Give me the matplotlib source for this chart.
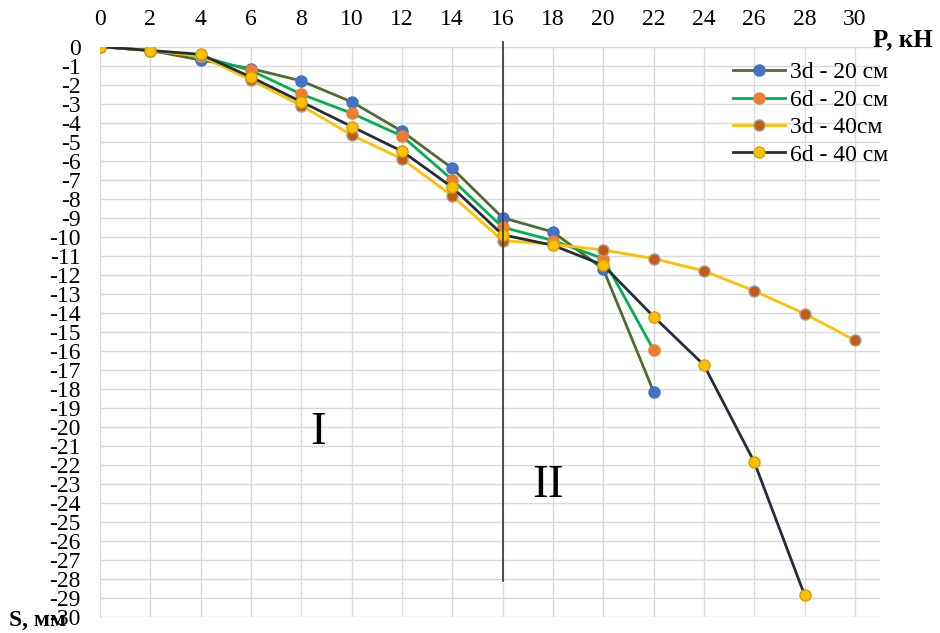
import matplotlib
matplotlib.use("Agg")
import matplotlib.pyplot as plt

P = [0, 2, 4, 6, 8, 10, 12, 14, 16, 18, 20, 22, 24, 26, 28, 30]

s_3d_20 = [0, -0.2, -0.7, -1.15, -1.8, -2.9, -4.45, -6.4, -9.0, -9.75, -11.7, -18.15]
s_6d_20 = [0, -0.2, -0.5, -1.25, -2.5, -3.5, -4.7, -7.0, -9.5, -10.2, -11.15, -15.95]
s_3d_40 = [0, -0.2, -0.5, -1.75, -3.1, -4.65, -5.9, -7.85, -10.2, -10.4, -10.7, -11.15, -11.8, -12.85, -14.05, -15.45]
s_6d_40 = [0, -0.2, -0.4, -1.6, -2.9, -4.2, -5.5, -7.4, -9.9, -10.45, -11.5, -14.2, -16.75, -21.85, -28.85]

labels = ["3d - 20 см", "6d - 20 см", "3d - 40см", "6d - 40 см"]
x_ticks = list(range(0, 31, 2))
y_ticks = list(range(0, -31, -1))

plt.rcParams['font.family'] = ['Liberation Serif', 'DejaVu Serif']

fig = plt.figure(figsize=(9.4, 6.33), dpi=100)
ax = fig.add_axes([100/940, 1-616.7/633, 780/940, 570/633])

series = [
    (s_3d_20, '#4F6B2F', '#4472C4', '#4472C4'),
    (s_6d_20, '#00B050', '#ED7D31', '#ED7D31'),
    (s_3d_40, '#FFC000', '#C55A11', '#A5A5A5'),
    (s_6d_40, '#262D3A', '#FFC000', '#D4A000'),
]
for (vals, lc, mc, mec), lab in zip(series, labels):
    ax.plot(P[:len(vals)], vals, color=lc, lw=2.0, marker='o', ms=8,
            mfc=mc, mec=mec, mew=1.0, label=lab, zorder=3)

ax.set_xlim(0, 31)
ax.set_ylim(-30, 0)
ax.set_xticks(x_ticks)
ax.set_yticks(y_ticks)
ax.set_yticklabels([str(v) for v in y_ticks])
ax.xaxis.tick_top()
ax.tick_params(axis='both', length=0, labelsize=17)
ax.tick_params(axis='x', pad=12)
ax.tick_params(axis='y', pad=14)
ax.grid(True, color='#D9D9D9', lw=1.0, zorder=0)
for sp in ['top', 'right', 'bottom']:
    ax.spines[sp].set_visible(False)
ax.spines['left'].set_color('#D9D9D9')
ax.set_axisbelow(True)

# divider line between zones
ax.plot([16, 16], [0.25, -28.1], color='#404040', lw=1.3, zorder=4, clip_on=False)

ax.text(8.65, -20.3, 'I', fontsize=34, ha='center', va='center')
ax.text(17.8, -23.1, 'II', fontsize=34, ha='center', va='center')

fig.text(903/940, 1-40/633, 'P, кН', fontsize=18, fontweight='bold', ha='center', va='center')
fig.text(38/940, 1-620/633, 'S, мм', fontsize=17, fontweight='bold', ha='center', va='center')

leg = ax.legend(loc='upper left', bbox_to_anchor=(0.80, 0.99), frameon=False,
                fontsize=17, handlelength=2.2, labelspacing=0.25, handletextpad=0.2,
                borderaxespad=0)

fig.savefig('out.png', dpi=100)
